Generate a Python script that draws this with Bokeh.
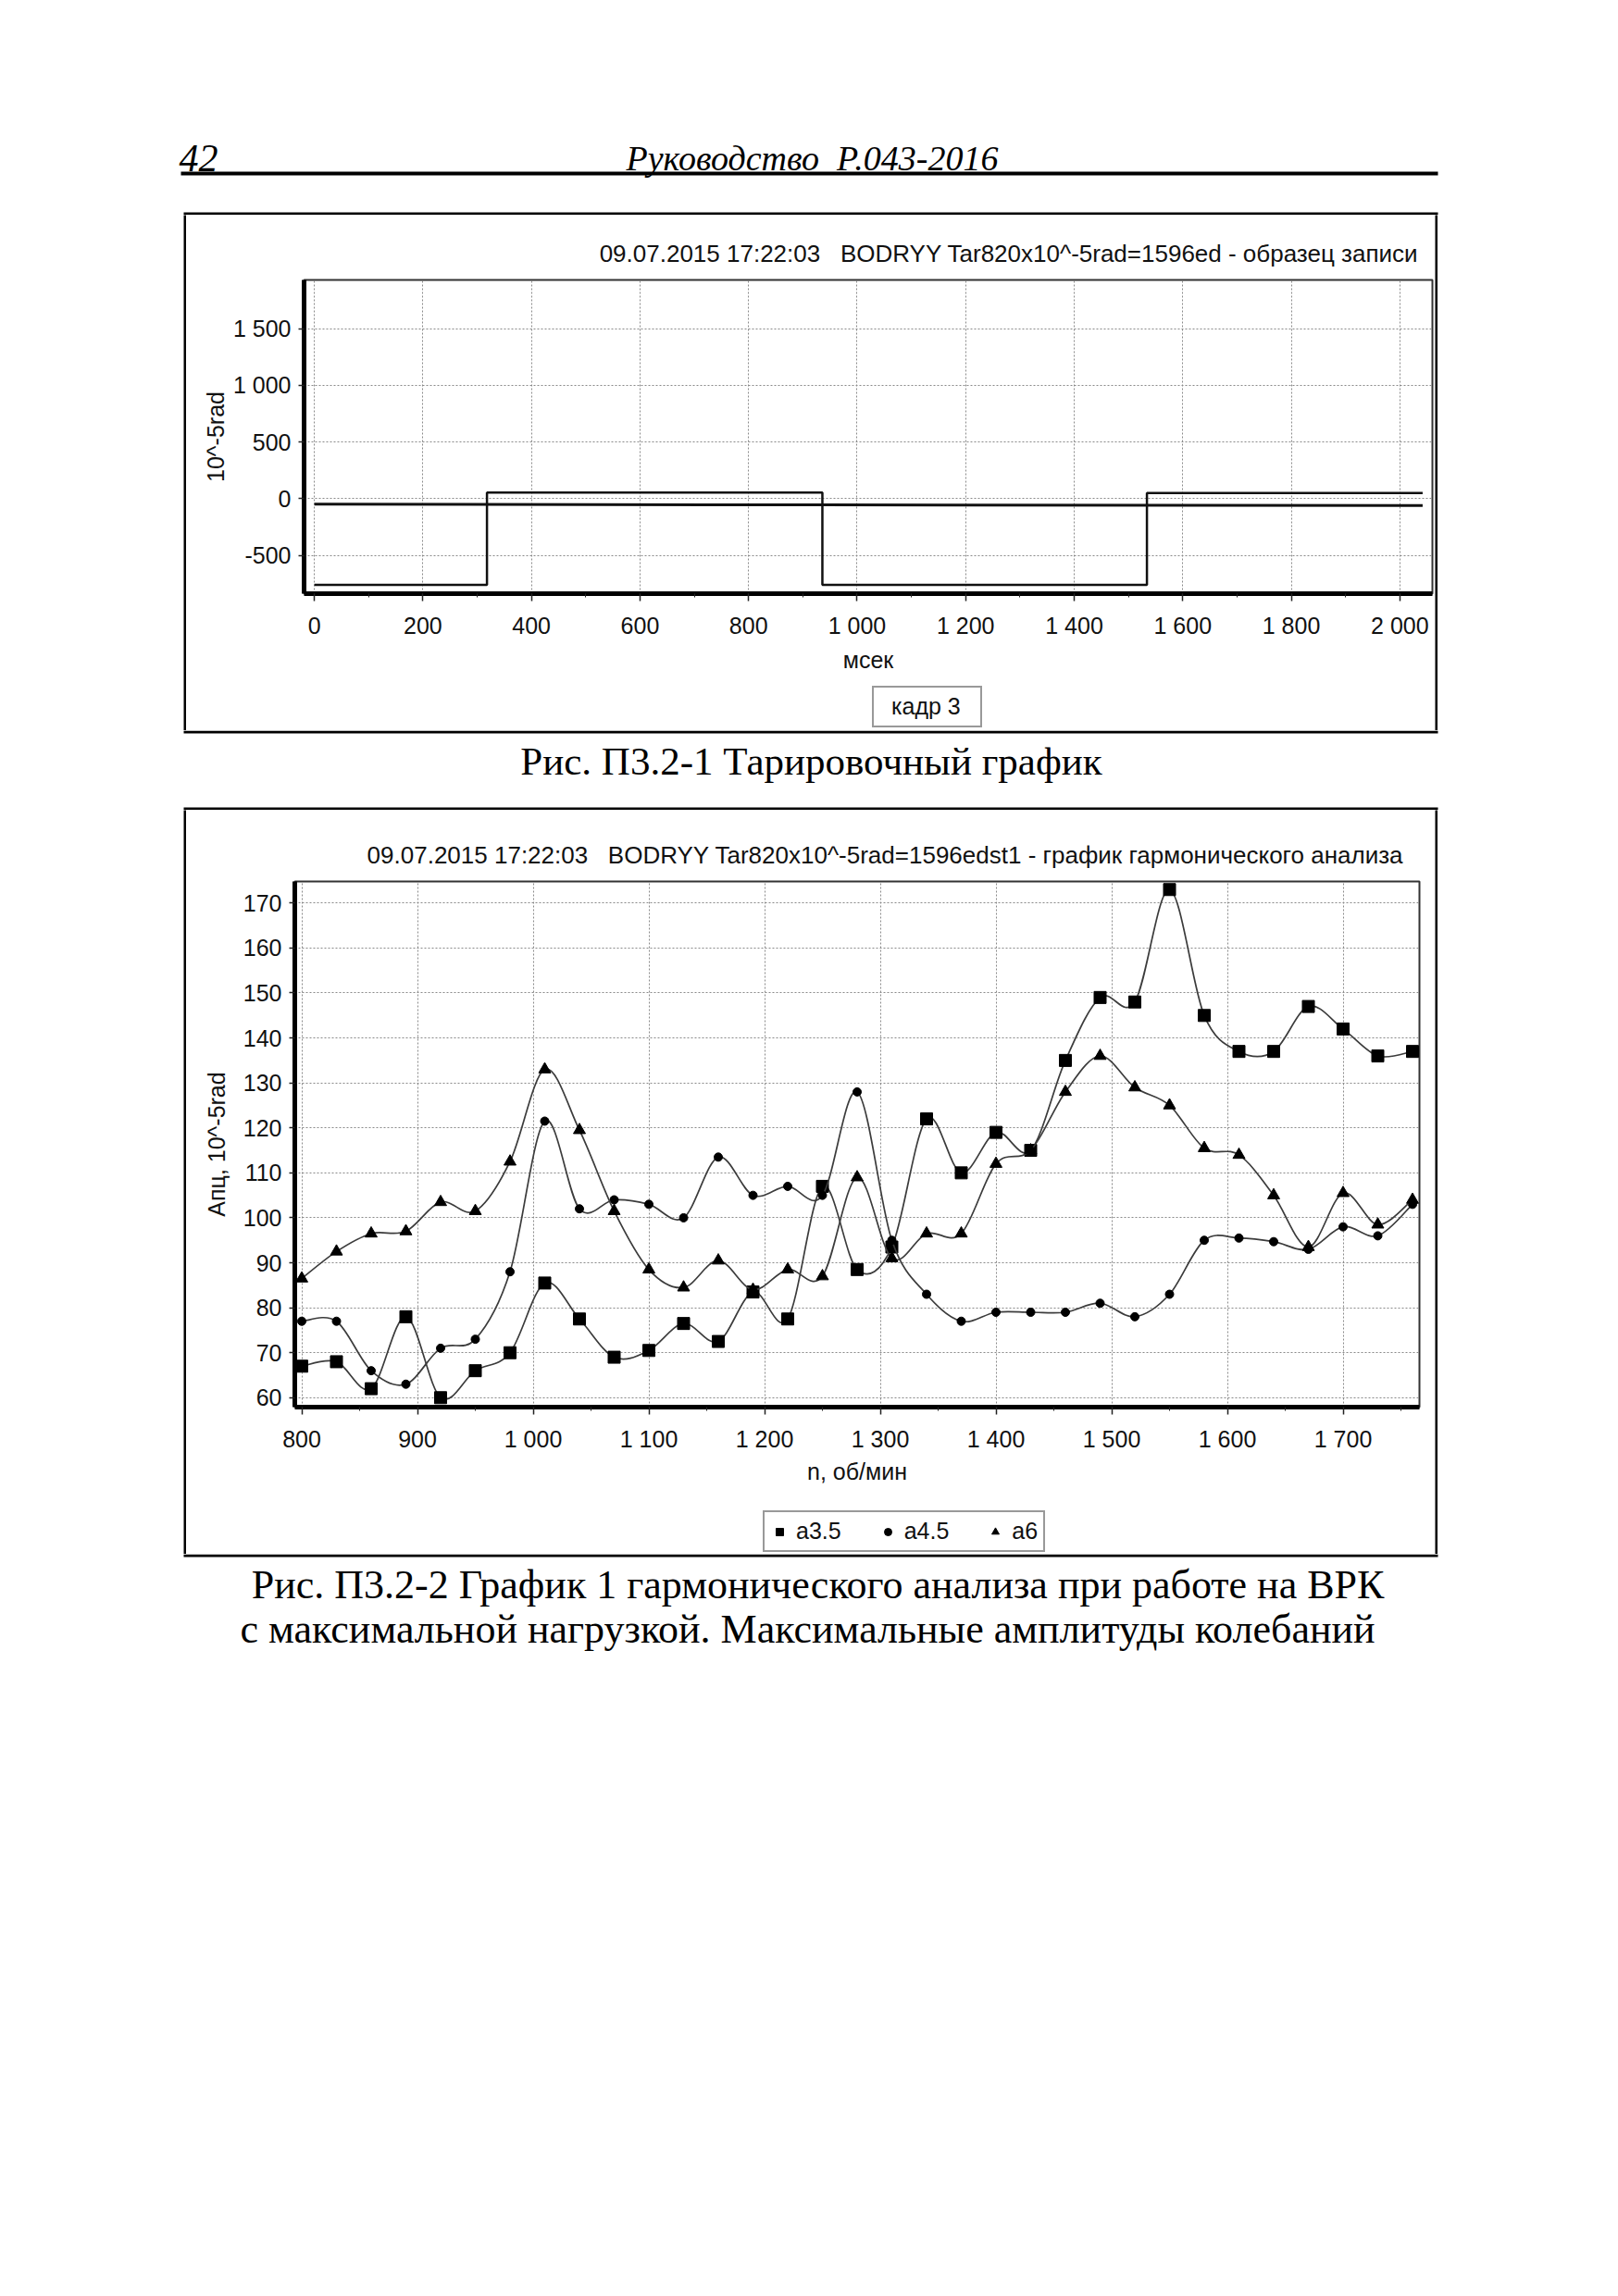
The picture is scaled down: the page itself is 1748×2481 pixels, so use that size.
from bokeh.plotting import figure
from bokeh.models import (Range1d, SingleIntervalTicker, CustomJSTickFormatter,
                          Legend, LegendItem, Spacer)
from bokeh.layouts import column, row
from bokeh.embed import file_html
from bokeh.resources import INLINE
from bokeh.core.properties import value

# ---------------- data: chart 1 (calibration record) ----------------
t_sig_a = [0, 318, 936, 1534, 2042]          # ms
sig_a = [-760, 55, -760, 50, 50]             # 10^-5 rad
t_sig_b = [0, 936, 2042]
sig_b = [-48, -55, -60]

# ---------------- data: chart 2 (harmonic analysis) ----------------
rpm = [800, 830, 860, 890, 920, 950, 980, 1010, 1040, 1070, 1100, 1130, 1160,
       1190, 1220, 1250, 1280, 1310, 1340, 1370, 1400, 1430, 1460, 1490, 1520,
       1550, 1580, 1610, 1640, 1670, 1700, 1730, 1760]
a35 = [67, 68, 62, 78, 60, 66, 70, 85.5, 77.5, 69, 70.5, 76.5, 72.5, 83.5, 77.5,
       107, 88.5, 93.5, 122, 110, 119, 115, 135, 149, 148, 173, 145, 137, 137,
       147, 142, 136, 137]
a45 = [77, 77, 66, 63, 71, 73, 88, 121.5, 102, 104, 103, 100, 113.5, 105, 107,
       105, 128, 95, 83, 77, 79, 79, 79, 81, 78, 83, 95, 95.5, 94.7, 93, 98, 96,
       103]
a6 = [86.5, 92.5, 96.5, 97, 103.5, 101.5, 112.5, 133, 119.5, 101.5, 88.5, 84.5,
      90.5, 84, 88.5, 87, 109, 91, 96.5, 96.5, 112, 115, 128, 136, 129, 125,
      115.5, 114, 105, 93.5, 105.5, 98.5, 104]
series_names = ["a3.5", "a4.5", "a6"]
series_markers = ["square", "circle", "triangle"]
series_sizes = [13, 9, 13]
legend_sizes = [10, 8, 10]

frame_label = "кадр 3"
header_num = "42"
header_title = "Руководство\u00a0\u00a0Р.043-2016"
title1 = "09.07.2015 17:22:03\u00a0\u00a0\u00a0BODRYY Tar820x10^-5rad=1596ed - образец записи"
title2 = "09.07.2015 17:22:03\u00a0\u00a0\u00a0BODRYY Tar820x10^-5rad=1596edst1 - график гармонического анализа"
caption1 = "Рис. П3.2-1 Тарировочный график"
caption2 = ["Рис. П3.2-2 График 1 гармонического анализа при работе на ВРК",
            "с максимальной нагрузкой. Максимальные амплитуды колебаний"]

SANS = "Liberation Sans"
SERIF = "Liberation Serif"
TXT = "#111111"

fmt = CustomJSTickFormatter(code="""
const s = Math.abs(Math.round(tick)).toString().replace(/\\B(?=(\\d{3})+(?!\\d))/g, ' ');
return (tick < 0 ? '-' : '') + s;
""")


def catmull_bezier(xs, ys):
    n = len(xs)
    d = dict(x0=[], y0=[], x1=[], y1=[], cx0=[], cy0=[], cx1=[], cy1=[])
    for i in range(n - 1):
        ip = i - 1 if i > 0 else i
        inn = i + 2 if i + 2 < n else i + 1
        d["x0"].append(xs[i]); d["y0"].append(ys[i])
        d["x1"].append(xs[i + 1]); d["y1"].append(ys[i + 1])
        d["cx0"].append(xs[i] + (xs[i + 1] - xs[ip]) / 6.0)
        d["cy0"].append(ys[i] + (ys[i + 1] - ys[ip]) / 6.0)
        d["cx1"].append(xs[i + 1] - (xs[inn] - xs[i]) / 6.0)
        d["cy1"].append(ys[i + 1] - (ys[inn] - ys[i]) / 6.0)
    return d


def plain(w, h, fill="white", xr=(0, 1), yr=(0, 1)):
    f = figure(width=w, height=h, min_border=0, toolbar_location=None,
               x_axis_type=None, y_axis_type=None, outline_line_color=None,
               background_fill_color=fill, border_fill_color=fill,
               x_range=Range1d(*xr), y_range=Range1d(*yr), output_backend="svg")
    f.xgrid.visible = False
    f.ygrid.visible = False
    return f


def style_chart(p):
    p.title.align = "right"
    p.title.offset = 15
    p.title.standoff = 27
    p.title.text_font = SANS
    p.title.text_font_size = "26px"
    p.title.text_font_style = "normal"
    p.title.text_color = TXT
    p.outline_line_color = "#333"
    p.outline_line_width = 2
    p.background_fill_color = "white"
    p.border_fill_color = "white"
    for g in (p.xgrid[0], p.ygrid[0]):
        g.grid_line_color = "#8a8a8a"
        g.grid_line_dash = "2 2"
        g.grid_line_width = 1
    for ax in (p.xaxis[0], p.yaxis[0]):
        ax.axis_line_width = 5
        ax.axis_line_color = "black"
        ax.major_tick_line_color = "#222"
        ax.major_tick_line_width = 1.5
        ax.minor_tick_line_color = "#222"
        ax.major_tick_in = 0
        ax.major_tick_out = 8
        ax.minor_tick_in = 0
        ax.minor_tick_out = 4
        ax.major_label_text_font = SANS
        ax.major_label_text_font_size = "25px"
        ax.major_label_text_color = TXT
        ax.axis_label_text_font = SANS
        ax.axis_label_text_font_size = "25px"
        ax.axis_label_text_font_style = "normal"
        ax.axis_label_text_color = TXT
        ax.formatter = fmt
    p.xaxis[0].major_label_standoff = 12
    p.yaxis[0].major_label_standoff = 8
    p.yaxis[0].major_tick_out = 6


def text_fig(height, y_top, items, bars):
    f = plain(1732, height, xr=(8, 1740), yr=(y_top + height, y_top))
    for (x, y, t, size, style) in items:
        f.text(x=[x], y=[y], text=[t], text_font=value(SERIF),
               text_font_size=size, text_font_style=style, text_align="center",
               text_baseline="alphabetic", text_color="black")
    for (l, r, t, b) in bars:
        f.quad(left=[l], right=[r], top=[t], bottom=[b], color="black", line_color=None)
    return f


def legend_strip(h, loc, proxies, **kw):
    # legend keys only; proxy glyphs sit outside the strip's visible range
    s = plain(1349, h)
    items = []
    for label, kind, size in proxies:
        if kind == "line":
            r = s.line(x=[-5, -4], y=[-5, -5], line_color="#111", line_width=2)
        else:
            r = s.scatter(x=[-5], y=[-5], marker=kind, size=size, color="black")
        items.append(LegendItem(label=label, renderers=[r]))
    leg = Legend(items=items, location=loc, label_text_font=SANS,
                 label_text_font_size="25px", label_text_color=TXT,
                 border_line_color="#333", border_line_width=2, margin=0, **kw)
    s.add_layout(leg, "center")
    return s


# ---------------- header (page y 8..232) ----------------
hdr = text_fig(224, 8,
               [(214, 170, header_num, "42px", "italic"),
                (877, 170, header_title, "38px", "italic")],
               [(195, 1553, 185, 189), (198, 1553, 229, 232)])

# ---------------- chart 1 (page y 232..789) ----------------
p1 = figure(width=1349, height=503, x_range=Range1d(-19, 2060),
            y_range=Range1d(-838, 1930), title=title1, output_backend="svg",
            toolbar_location=None, min_border_left=127, min_border_right=3,
            min_border_top=70, min_border_bottom=94)
style_chart(p1)
p1.xaxis[0].ticker = SingleIntervalTicker(interval=200, num_minor_ticks=2)
p1.yaxis[0].ticker = SingleIntervalTicker(interval=500, num_minor_ticks=0)
p1.xaxis[0].axis_label = "мсек"
p1.yaxis[0].axis_label = "10^-5rad"
p1.xaxis[0].axis_label_standoff = 6
p1.yaxis[0].axis_label_standoff = 2
p1.step(t_sig_a, sig_a, mode="after", line_color="#111", line_width=2.5)
p1.line(t_sig_b, sig_b, line_color="#111", line_width=3)
strip1 = legend_strip(54, (614, 3), [(frame_label, "line", 0)],
                      glyph_width=0, label_standoff=13, label_width=90, padding=6)
box1 = row(plain(3, 557, fill="black"), column(p1, strip1), plain(3, 557, fill="black"))

# ---------------- caption 1 (page y 789..875) ----------------
cap1 = text_fig(86, 789, [(876, 822, caption1, "43px", "normal")],
                [(198, 1553, 789, 792), (198, 1553, 872, 875)])

# ---------------- chart 2 (page y 875..1679) ----------------
p2 = figure(width=1349, height=750, x_range=Range1d(794, 1766),
            y_range=Range1d(57.9, 174.8), title=title2, output_backend="svg",
            toolbar_location=None, min_border_left=117, min_border_right=17,
            min_border_top=77, min_border_bottom=105)
style_chart(p2)
p2.title.offset = 17
p2.xaxis[0].ticker = SingleIntervalTicker(interval=100, num_minor_ticks=2)
p2.yaxis[0].ticker = SingleIntervalTicker(interval=10, num_minor_ticks=0)
p2.xaxis[0].axis_label = "n, об/мин"
p2.yaxis[0].axis_label = "Апц, 10^-5rad"
p2.xaxis[0].axis_label_standoff = 4
p2.yaxis[0].axis_label_standoff = 12

for ys, mk, sz in zip((a35, a45, a6), series_markers, series_sizes):
    p2.bezier(line_color="#3c3c3c", line_width=1.7, **catmull_bezier(rpm, ys))
    p2.scatter(rpm, ys, marker=mk, size=sz, color="black")

strip2 = legend_strip(54, (506, 2),
                      list(zip(series_names, series_markers, legend_sizes)),
                      orientation="horizontal", glyph_width=20, label_standoff=8,
                      spacing=40, padding=6)
box2 = row(plain(3, 804, fill="black"), column(p2, strip2), plain(3, 804, fill="black"))

# ---------------- caption 2 (page y 1679..1800) ----------------
cap2 = text_fig(121, 1679, [(883, 1712, caption2[0], "44px", "normal"),
                            (872, 1760, caption2[1], "44px", "normal")],
                [(198, 1553, 1679, 1682)])

page = row(Spacer(width=8, height=1800),
           column(Spacer(width=1732, height=8),
                  hdr,
                  row(Spacer(width=190, height=557), box1),
                  cap1,
                  row(Spacer(width=190, height=804), box2),
                  cap2))

open("out.html", "w").write(file_html(page, INLINE))
